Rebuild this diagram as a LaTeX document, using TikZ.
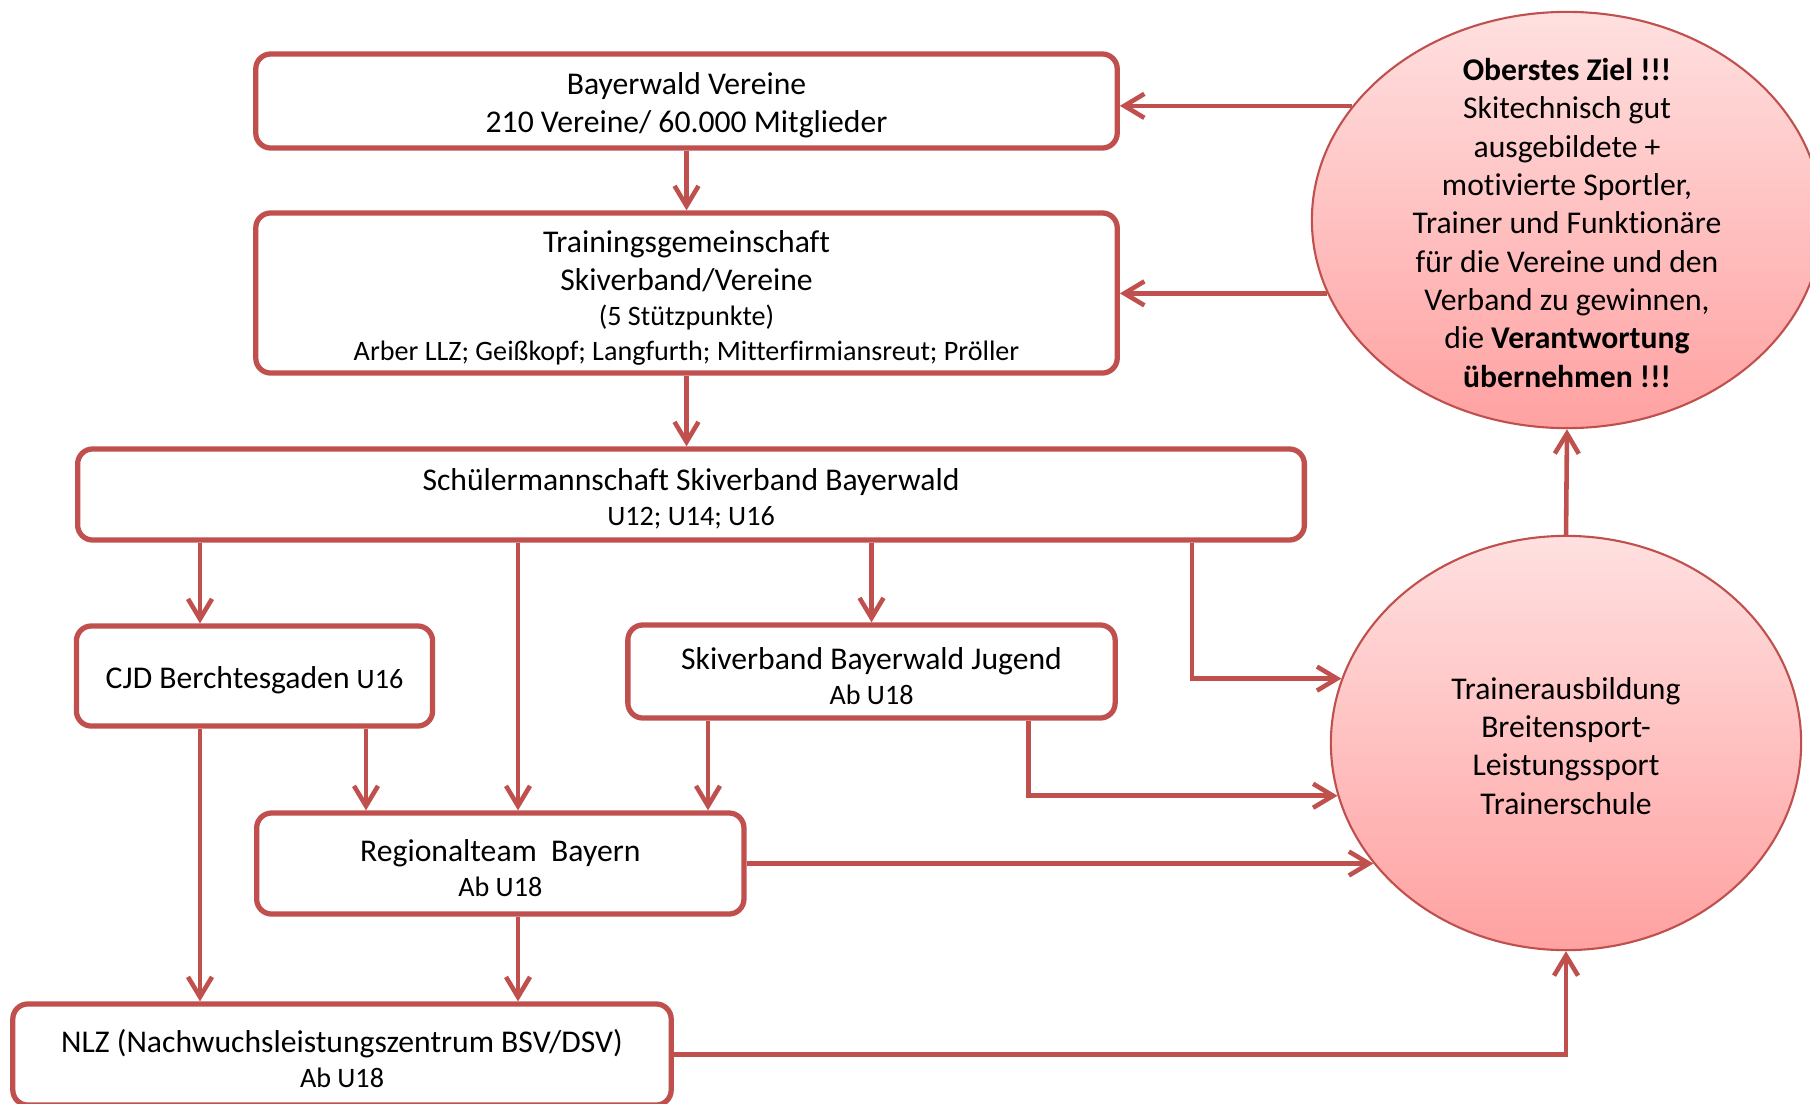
\documentclass[tikz,border=0pt]{standalone}
\usepackage{fontspec}
\setmainfont{Carlito}[RawFeature={-liga;-clig;-calt}]
\usetikzlibrary{shapes.geometric,arrows.meta}
\definecolor{rahmen}{HTML}{C0504D}
\definecolor{hellrot}{HTML}{FFE0E0}
\definecolor{mittelrot}{HTML}{FFA1A1}
\newcommand\gross{\fontsize{9}{10.9}\selectfont}
\newcommand\klein{\fontsize{8}{9.8}\selectfont}
\newcommand\oben{\rule{0pt}{8.8pt}}

\begin{document}
\begin{tikzpicture}[x=0.01cm,y=-0.01cm]
   \tikzset{kasten/.style = {draw=rahmen,line width=1.5pt,rounded corners=0.15cm,fill=white,align=center,inner sep=0pt,font=\gross}}
   \tikzset{blase/.style = {shape=ellipse,draw=rahmen,line width=0.6pt,top color=hellrot,bottom color=mittelrot,inner sep=0pt}}
   \tikzset{pfeil/.style = {draw=rahmen,line width=1.3pt,-{Straight Barb[length=2mm,width=2.4mm]}}}
   \useasboundingbox (0,0) rectangle (1810,1103);
   \clip (0,0) rectangle (1810,1103);

   \node[kasten,minimum width=8.61cm,minimum height=0.94cm] (verein) at (686.5,101) {\oben Bayerwald Vereine\\210 Vereine/ 60.000 Mitglieder};
   \node[kasten,minimum width=8.61cm,minimum height=1.6cm] (trainingsg) at (686.5,293) {\oben Trainingsgemeinschaft\\Skiverband/Vereine\\[-1pt]{\klein (5 Stützpunkte)}\\[-1pt]{\klein Arber LLZ; Geißkopf; Langfurth; Mitterfirmiansreut; Pröller}};
   \node[kasten,minimum width=12.26cm,minimum height=0.91cm] (schueler) at (691,494.5) {\oben Schülermannschaft Skiverband Bayerwald\\[-1pt]{\klein U12; U14; U16}};
   \node[kasten,minimum width=3.56cm,minimum height=1.0cm] (cjd) at (254.5,676) {\oben CJD Berchtesgaden {\klein U16}};
   \node[kasten,minimum width=4.87cm,minimum height=0.93cm] (sbj) at (871.5,671.5) {\oben Skiverband Bayerwald Jugend\\[-1pt]{\klein Ab U18}};
   \node[kasten,minimum width=4.87cm,minimum height=1.01cm] (regional) at (500.3,863.5) {\oben Regionalteam\ \ Bayern\\[-1pt]{\klein Ab U18}};
   \node[kasten,minimum width=6.58cm,minimum height=1.01cm] (nlz) at (342,1054.5) {\oben NLZ (Nachwuchsleistungszentrum BSV/DSV)\\[-1pt]{\klein Ab U18}};

   \node[blase,minimum width=5.1cm,minimum height=4.16cm] (ziel) at (1567,220) {};
   \node[align=center,font=\gross,yshift=-0.8pt] (zieltext) at (ziel) {\textbf{Oberstes Ziel !!!}\\Skitechnisch gut\\ausgebildete +\\motivierte Sportler,\\Trainer und Funktionäre\\für die Vereine und den\\Verband zu gewinnen,\\die \textbf{Verantwortung}\\\textbf{übernehmen !!!}};
   \node[blase,minimum width=4.7cm,minimum height=4.14cm] (trainer) at (1566,743) {};
   \node[align=center,font=\gross,yshift=-0.8pt] (trainertext) at (trainer) {Trainerausbildung\\Breitensport-\\Leistungssport\\Trainerschule};

   \draw[pfeil] (verein.south) -- (trainingsg.north);
   \draw[pfeil] (trainingsg.south) -- (trainingsg.south |- schueler.north);
   \draw[pfeil] (schueler.south -| 200,0) -- (cjd.north -| 200,0);
   \draw[pfeil] (schueler.south -| 518,0) -- (regional.north -| 518,0);
   \draw[pfeil] (schueler.south -| sbj.north) -- (sbj.north);
   \draw[pfeil] (schueler.south -| 1192,0) |- (trainer.164);
   \draw[pfeil] (cjd.south -| 366,0) -- (regional.north -| 366,0);
   \draw[pfeil] (cjd.south -| 200,0) -- (nlz.north -| 200,0);
   \draw[pfeil] (sbj.south -| 708,0) -- (regional.north -| 708,0);
   \draw[pfeil] (sbj.south -| 1028.6,0) |- (trainer.193);
   \draw[pfeil] (regional.east) -- (regional.east -| trainer.212);
   \draw[pfeil] (regional.south -| 518,0) -- (nlz.north -| 518,0);
   \draw[pfeil] (nlz.east) -| (trainer.south);
   \draw[pfeil] (trainer.north) -- (ziel.south);
   \draw[pfeil] (ziel.152) -- (ziel.152 -| verein.east);
   \draw[pfeil] (ziel.197) -- (ziel.197 -| trainingsg.east);
\end{tikzpicture}
\end{document}
